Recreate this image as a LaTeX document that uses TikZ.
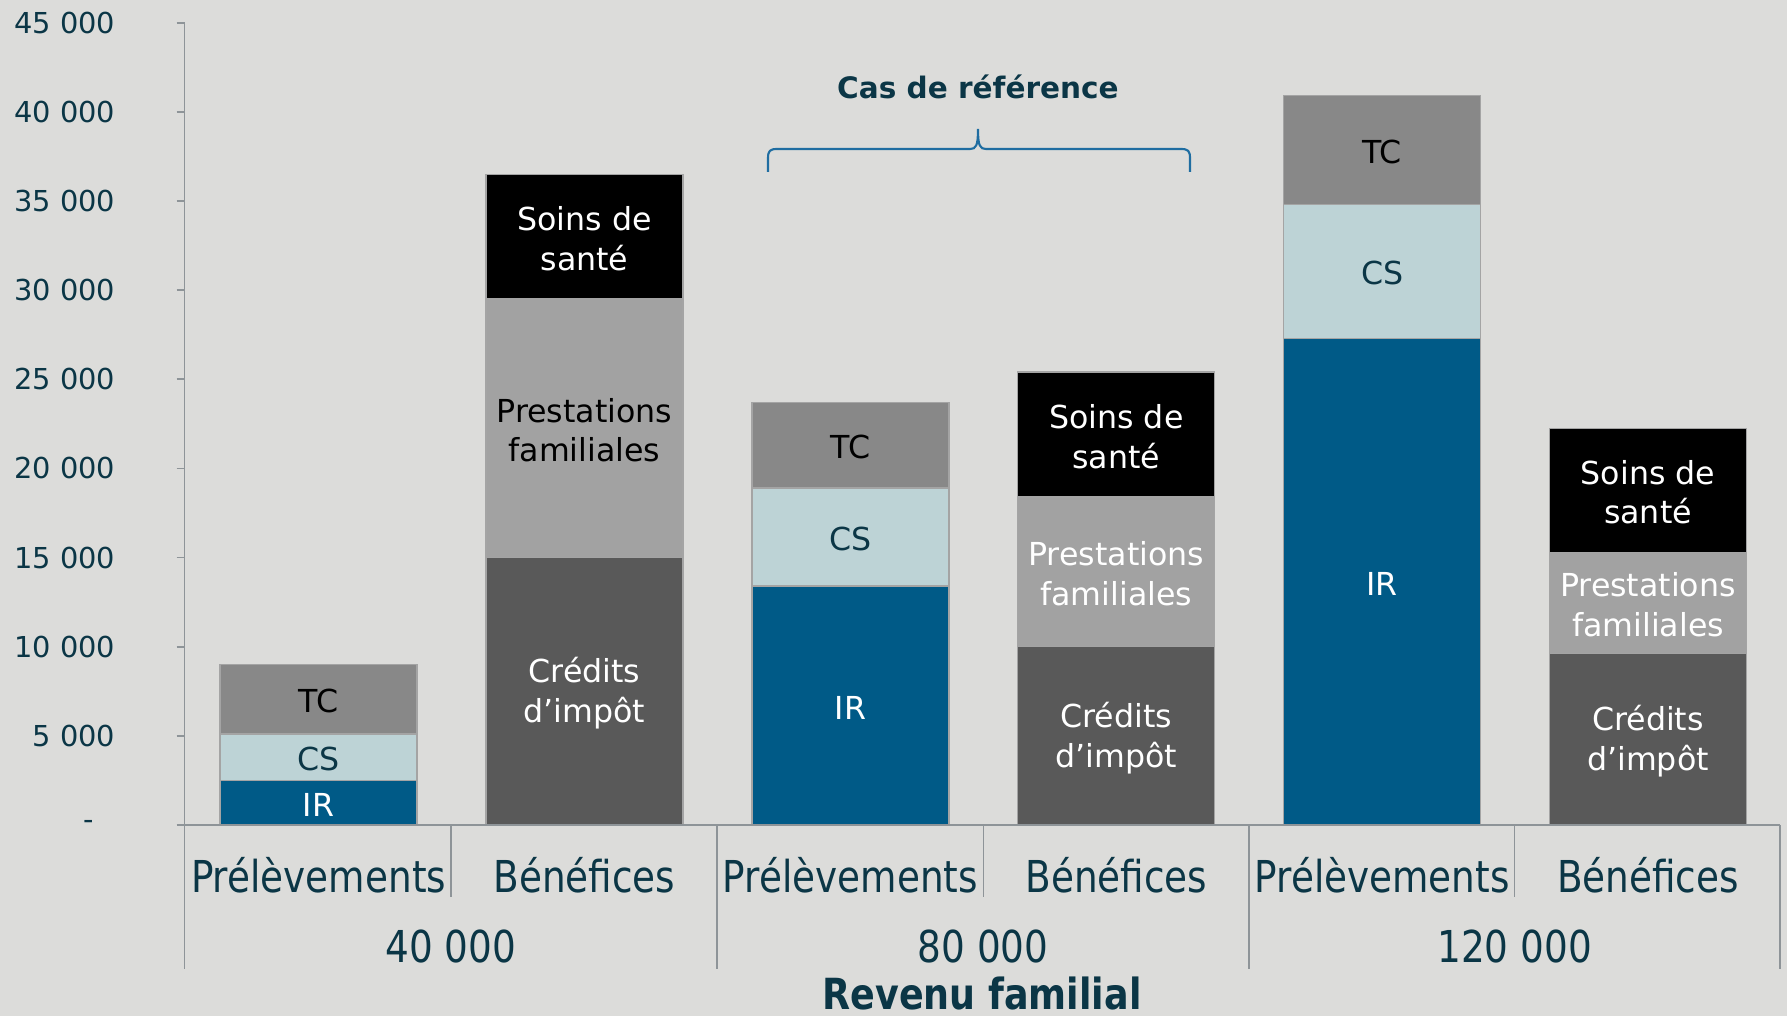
\documentclass[tikz,border=0pt]{standalone}
\usepackage{fontspec}
\setmainfont{DejaVu Sans}
\newfontfamily\condfont[FakeStretch=0.85]{DejaVu Sans}
\usepackage{tikz}

\definecolor{bgcol}{HTML}{DCDCDA}
\definecolor{axistext}{HTML}{0B3646}
\definecolor{axisgray}{HTML}{8E9498}
\definecolor{bracecol}{HTML}{1F6DA1}
\definecolor{segedge}{HTML}{A4A4A4}
\definecolor{ircol}{HTML}{005A87}
\definecolor{cscol}{HTML}{BDD3D6}
\definecolor{tccol}{HTML}{888888}
\definecolor{prestcol}{HTML}{A2A2A2}
\definecolor{credcol}{HTML}{595959}

\tikzset{
	segbox/.style={draw=segedge, line width=0.35pt},
	seglabel/.style={align=center, inner sep=0pt, font=\fontsize{9}{11.3}\selectfont},
	ticklabel/.style={anchor=east, inner sep=0pt, text=axistext, font=\fontsize{8.2}{10}\selectfont},
	catlabel/.style={inner sep=0pt, text=axistext, font=\condfont\fontsize{12.5}{15}\selectfont},
	axisline/.style={draw=axisgray, line width=0.5pt}
}

\begin{document}
\begin{tikzpicture}[x=0.01cm, y=-0.01cm]
	\fill[bgcol] (0,0) rectangle (1787,1016);
	\useasboundingbox (0,0) rectangle (1787,1016);

	% stacked bars (values in thousands): name/centre/from/to/fill/text colour/text
	\foreach \nm/\cx/\lo/\hi/\col/\tc/\txt in {
		pa/318.6/0/2.5/ircol/white/IR,
		pb/318.6/2.5/5.1/cscol/axistext/CS,
		pc/318.6/5.1/9.0/tccol/black/TC,
		ba/584.5/0/15.0/credcol/white/{Crédits\\d’impôt},
		bb/584.5/15.0/29.5/prestcol/black/{Prestations\\familiales},
		bc/584.5/29.5/36.5/black/white/{Soins de\\santé},
		qa/850.4/0/13.4/ircol/white/IR,
		qb/850.4/13.4/18.9/cscol/axistext/CS,
		qc/850.4/18.9/23.7/tccol/black/TC,
		ca/1116.3/0/10.0/credcol/white/{Crédits\\d’impôt},
		cb/1116.3/10.0/18.4/prestcol/white/{Prestations\\familiales},
		cc/1116.3/18.4/25.4/black/white/{Soins de\\santé},
		ra/1382.2/0/27.3/ircol/white/IR,
		rb/1382.2/27.3/34.8/cscol/axistext/CS,
		rc/1382.2/34.8/40.9/tccol/black/TC,
		da/1648/0/9.6/credcol/white/{Crédits\\d’impôt},
		db/1648/9.6/15.3/prestcol/white/{Prestations\\familiales},
		dc/1648/15.3/22.25/black/white/{Soins de\\santé}}{
		\filldraw[segbox, fill=\col] ({\cx-98.5},{825-17.83*\lo}) rectangle ({\cx+98.5},{825-17.83*\hi});
		\node[seglabel, text=\tc] (\nm) at (\cx,{827-8.915*\lo-8.915*\hi}) {\txt};
	}

	% value axis
	\draw[axisline] (184.6,22.6) -- (184.6,968.7);
	\foreach \v in {5,10,...,45}{
		\draw[axisline] (176.6,{825-17.83*\v}) -- (184.6,{825-17.83*\v});
		\node[ticklabel] (t\v) at (116,{825-17.83*\v}) {\v~000};
	}
	\node[ticklabel, anchor=center] (t0) at (89,825) {-};

	% category axis
	\draw[axisline] (176.6,825) -- (1780.2,825);
	\foreach \sx in {716.9,1249.1,1780.2}
		\draw[axisline] (\sx,825) -- (\sx,968.7);
	\foreach \sx in {451.3,983.5,1514.6}
		\draw[axisline] (\sx,825) -- (\sx,897);
	\foreach \cx/\nm/\txt in {318.6/pl1/Prélèvements, 584.5/bn1/Bénéfices, 850.4/pl2/Prélèvements,
		1116.3/bn2/Bénéfices, 1382.2/pl3/Prélèvements, 1648/bn3/Bénéfices}
		\node[catlabel] (\nm) at (\cx,875) {\txt};
	\node[catlabel] (g1) at (450.8,947) {40 000};
	\node[catlabel] (g2) at (983,947) {80 000};
	\node[catlabel] (g3) at (1514.6,947) {120 000};
	\node[catlabel, font=\condfont\bfseries\fontsize{12.2}{14}\selectfont] (xtitle) at (982,994) {Revenu familial};

	% reference case
	\node[inner sep=0pt, text=axistext, font=\bfseries\fontsize{8.4}{11}\selectfont] (ref) at (978,87) {Cas de référence};
	\draw[bracecol, line width=0.6pt] (768,172) -- (768,158) .. controls (768,151) and (770,149) .. (777,149)
		-- (970,149) .. controls (976,149) and (978,146) .. (978,129)
		.. controls (978,146) and (980,149) .. (986,149) -- (1181,149)
		.. controls (1188,149) and (1190,151) .. (1190,158) -- (1190,172);
\end{tikzpicture}
\end{document}
